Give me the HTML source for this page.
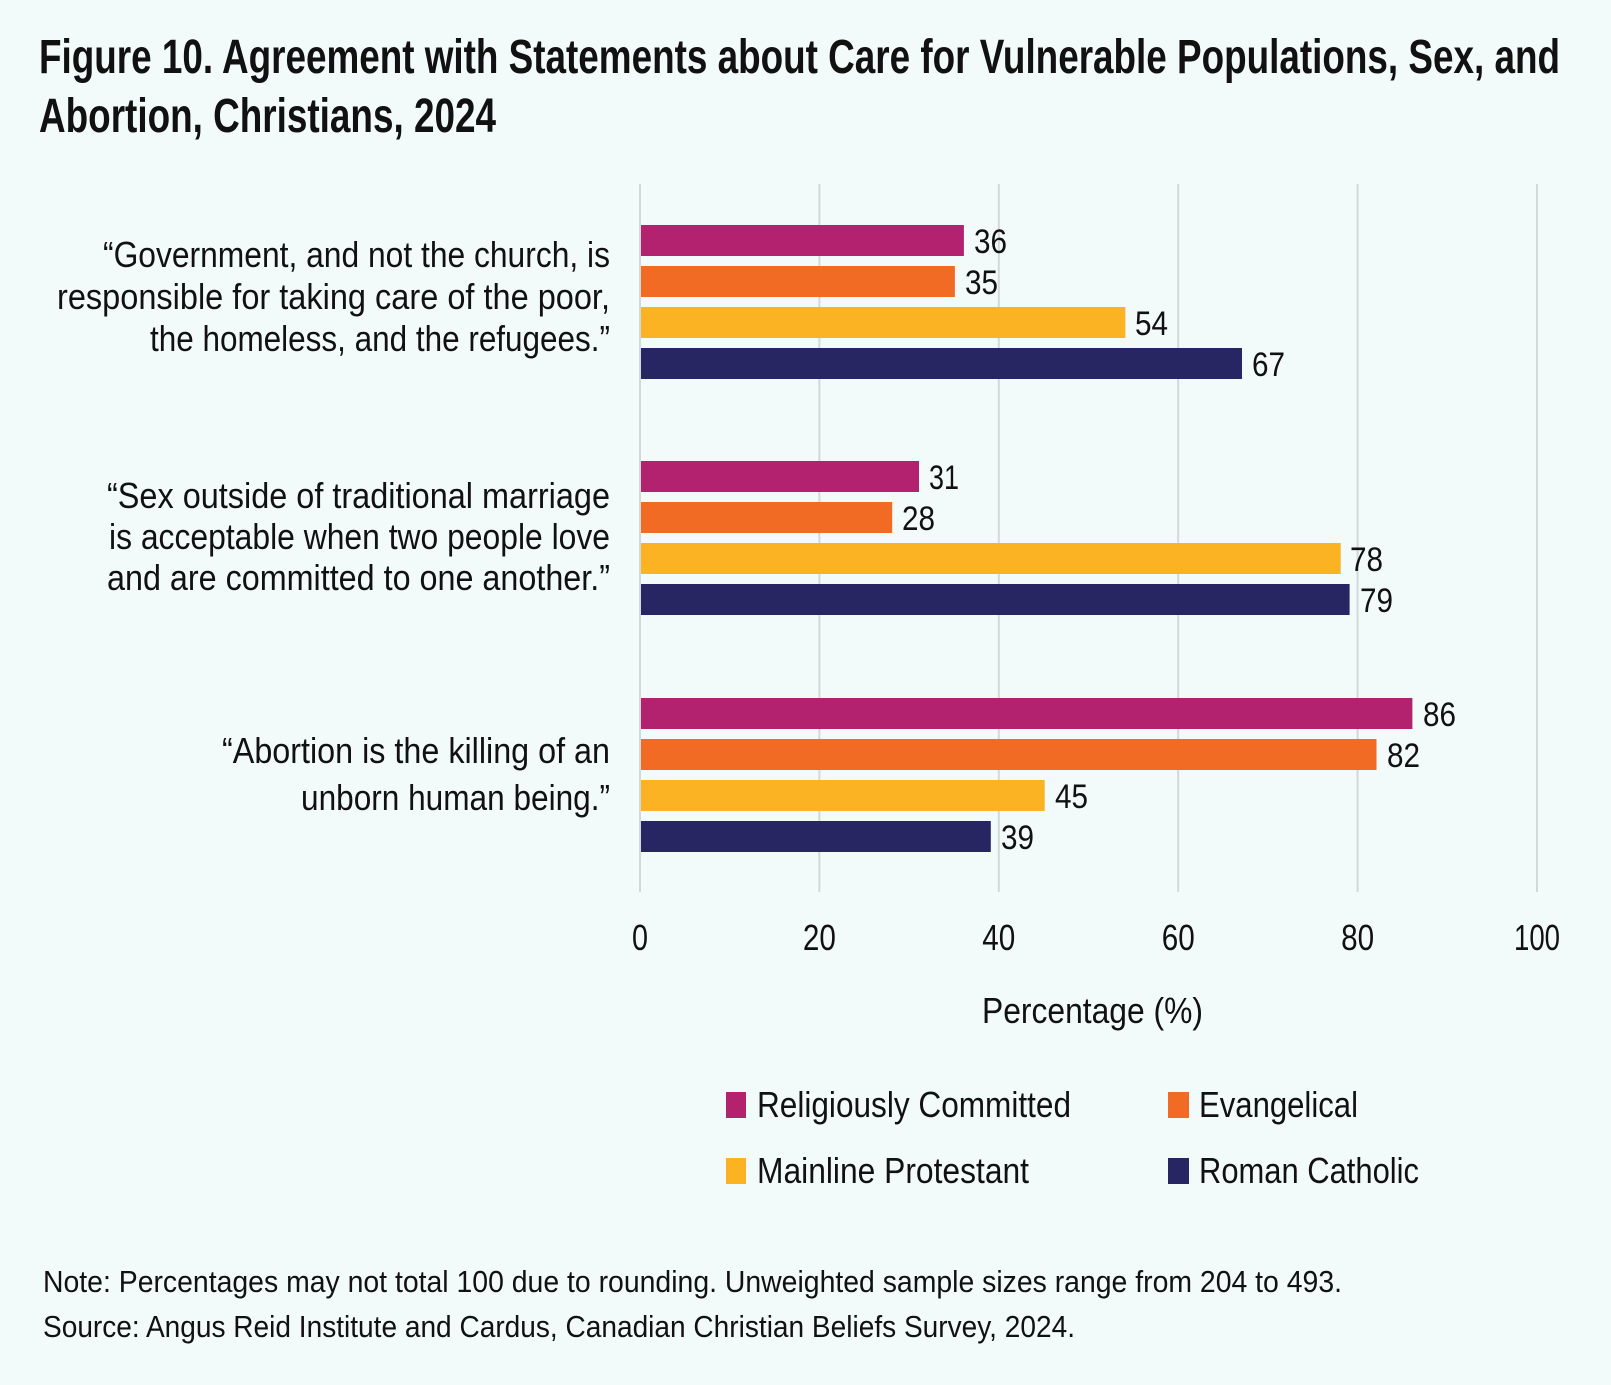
<!DOCTYPE html>
<html><head><meta charset="utf-8"><style>
html,body{margin:0;padding:0;background:#F3FBFA;}
svg{display:block;}
text{font-family:"Liberation Sans",sans-serif;fill:#111;}
</style></head><body>
<svg width="1611" height="1385" viewBox="0 0 1611 1385" xmlns="http://www.w3.org/2000/svg">
<rect width="1611" height="1385" fill="#F3FBFA"/>
<text x="39" y="73" font-size="48" font-weight="bold" textLength="1521" lengthAdjust="spacingAndGlyphs">Figure 10. Agreement with Statements about Care for Vulnerable Populations, Sex, and</text>
<text x="39" y="132" font-size="48" font-weight="bold" textLength="457" lengthAdjust="spacingAndGlyphs">Abortion, Christians, 2024</text>
<g stroke="#D4D8D8" stroke-width="2">
<line x1="640" y1="184" x2="640" y2="892"/><line x1="819.4" y1="184" x2="819.4" y2="892"/><line x1="998.8" y1="184" x2="998.8" y2="892"/><line x1="1178.2" y1="184" x2="1178.2" y2="892"/><line x1="1357.6" y1="184" x2="1357.6" y2="892"/><line x1="1537" y1="184" x2="1537" y2="892"/>
</g>
<g font-size="34">
<rect x="641" y="225" width="322.9" height="31" fill="#B2226F"/><text x="974" y="253" textLength="33" lengthAdjust="spacingAndGlyphs">36</text>
<rect x="641" y="266" width="313.9" height="31" fill="#F26B25"/><text x="965" y="294" textLength="33" lengthAdjust="spacingAndGlyphs">35</text>
<rect x="641" y="307" width="484.4" height="31" fill="#FBB324"/><text x="1135" y="335" textLength="33" lengthAdjust="spacingAndGlyphs">54</text>
<rect x="641" y="348" width="601" height="31" fill="#272562"/><text x="1252" y="376" textLength="33" lengthAdjust="spacingAndGlyphs">67</text>
<rect x="641" y="461" width="278" height="31" fill="#B2226F"/><text x="929" y="489" textLength="30" lengthAdjust="spacingAndGlyphs">31</text>
<rect x="641" y="502" width="251.2" height="31" fill="#F26B25"/><text x="902" y="530" textLength="33" lengthAdjust="spacingAndGlyphs">28</text>
<rect x="641" y="543" width="699.7" height="31" fill="#FBB324"/><text x="1350" y="571" textLength="33" lengthAdjust="spacingAndGlyphs">78</text>
<rect x="641" y="584" width="708.6" height="31" fill="#272562"/><text x="1360" y="612" textLength="33" lengthAdjust="spacingAndGlyphs">79</text>
<rect x="641" y="698" width="771.4" height="31" fill="#B2226F"/><text x="1423" y="726" textLength="33" lengthAdjust="spacingAndGlyphs">86</text>
<rect x="641" y="739" width="735.5" height="31" fill="#F26B25"/><text x="1387" y="767" textLength="33" lengthAdjust="spacingAndGlyphs">82</text>
<rect x="641" y="780" width="403.7" height="31" fill="#FBB324"/><text x="1055" y="808" textLength="33" lengthAdjust="spacingAndGlyphs">45</text>
<rect x="641" y="821" width="349.8" height="31" fill="#272562"/><text x="1001" y="849" textLength="33" lengthAdjust="spacingAndGlyphs">39</text>
</g>
<g font-size="36" text-anchor="end">
<text x="610" y="267" textLength="507" lengthAdjust="spacingAndGlyphs">“Government, and not the church, is</text>
<text x="610" y="309" textLength="553" lengthAdjust="spacingAndGlyphs">responsible for taking care of the poor,</text>
<text x="610" y="351" textLength="460" lengthAdjust="spacingAndGlyphs">the homeless, and the refugees.”</text>
<text x="610" y="508" textLength="503" lengthAdjust="spacingAndGlyphs">“Sex outside of traditional marriage</text>
<text x="610" y="549" textLength="501" lengthAdjust="spacingAndGlyphs">is acceptable when two people love</text>
<text x="610" y="590" textLength="503" lengthAdjust="spacingAndGlyphs">and are committed to one another.”</text>
<text x="610" y="763" textLength="388" lengthAdjust="spacingAndGlyphs">“Abortion is the killing of an</text>
<text x="610" y="810" textLength="309" lengthAdjust="spacingAndGlyphs">unborn human being.”</text>
</g>
<g font-size="36" text-anchor="middle">
<text x="640" y="950" textLength="16" lengthAdjust="spacingAndGlyphs">0</text><text x="819.4" y="950" textLength="33" lengthAdjust="spacingAndGlyphs">20</text><text x="998.8" y="950" textLength="33" lengthAdjust="spacingAndGlyphs">40</text><text x="1178.2" y="950" textLength="33" lengthAdjust="spacingAndGlyphs">60</text><text x="1357.6" y="950" textLength="33" lengthAdjust="spacingAndGlyphs">80</text><text x="1537" y="950" textLength="46" lengthAdjust="spacingAndGlyphs">100</text>
</g>
<text x="982" y="1023" font-size="36" textLength="221" lengthAdjust="spacingAndGlyphs">Percentage (%)</text>
<rect x="726" y="1092" width="20" height="26" fill="#B2226F"/>
<text x="757" y="1117" font-size="36" textLength="314" lengthAdjust="spacingAndGlyphs">Religiously Committed</text>
<rect x="1168" y="1092" width="21" height="26" fill="#F26B25"/>
<text x="1199" y="1117" font-size="36" textLength="159" lengthAdjust="spacingAndGlyphs">Evangelical</text>
<rect x="726" y="1158" width="20" height="26" fill="#FBB324"/>
<text x="757" y="1183" font-size="36" textLength="272" lengthAdjust="spacingAndGlyphs">Mainline Protestant</text>
<rect x="1168" y="1158" width="21" height="26" fill="#272562"/>
<text x="1199" y="1183" font-size="36" textLength="220" lengthAdjust="spacingAndGlyphs">Roman Catholic</text>
<text x="43" y="1292" font-size="31" textLength="1299" lengthAdjust="spacingAndGlyphs">Note: Percentages may not total 100 due to rounding. Unweighted sample sizes range from 204 to 493.</text>
<text x="43" y="1337" font-size="31" textLength="1032" lengthAdjust="spacingAndGlyphs">Source: Angus Reid Institute and Cardus, Canadian Christian Beliefs Survey, 2024.</text>
</svg>
</body></html>
